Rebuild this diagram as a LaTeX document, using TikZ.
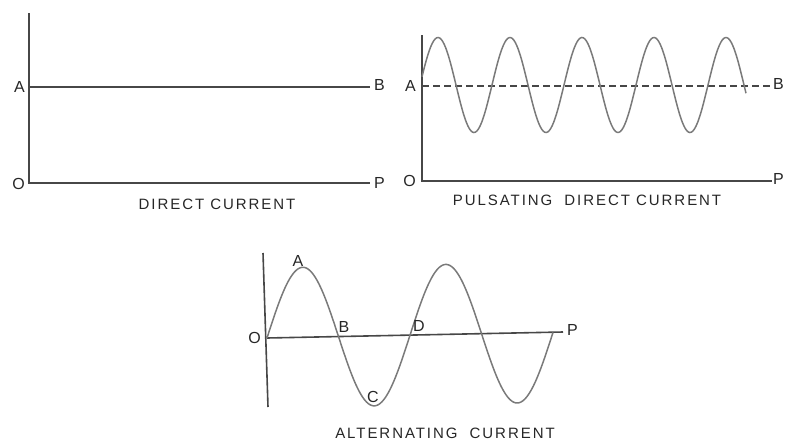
\documentclass[tikz,border=0pt]{standalone}
\usepackage{fontspec}
\setmainfont{Liberation Sans}
\usetikzlibrary{positioning}

\begin{document}
\begin{tikzpicture}[x=1pt, y=-1pt, node distance=2pt]
        \tikzset{axis/.style={line width=1.6pt, draw=black!72},
                 wave/.style={line width=1.5pt, draw=black!52},
                 lbl/.style={font=\fontsize{16}{16}\selectfont, text=black!85, inner sep=1pt},
                 caption/.style={font=\fontsize{15}{15}\selectfont\addfontfeature{LetterSpace=13}, text=black!85, inner sep=0pt}}
        \useasboundingbox (0,0) rectangle (790,442);
        % direct current
        \coordinate (dcTop) at (29,13);
        \coordinate (dcO) at (29,183);
        \coordinate (dcP) at (370,183);
        \coordinate (dcA) at (29,87);
        \coordinate (dcB) at (370,87);
        \draw[axis] (dcTop) -- (dcO) -- (dcP);
        \draw[axis] (dcA) -- (dcB);
        \node[lbl, left=3pt of dcA] (dcAl) {A};
        \node[lbl, right=3pt of dcB, yshift=2pt] (dcBl) {B};
        \node[lbl, left=3pt of dcO, yshift=-1pt] (dcOl) {O};
        \node[lbl, right=3pt of dcP] (dcPl) {P};
        \node[caption] (dcCap) at (217,204) {DIRECT CURRENT};
        % pulsating direct current
        \coordinate (pdTop) at (422,35);
        \coordinate (pdO) at (422,181);
        \coordinate (pdP) at (772,181);
        \coordinate (pdA) at (422,86);
        \coordinate (pdB) at (772,86);
        \draw[axis] (pdTop) -- (pdO) -- (pdP);
        \draw[axis, dash pattern=on 7pt off 4pt] (pdA) -- (pdB);
        \draw[wave] plot[domain=422:746, samples=220, smooth] (\x, {85-47.5*sin(5*(\x-420))});
        \node[lbl, left=5pt of pdA] (pdAl) {A};
        \node[lbl, right=0pt of pdB, yshift=2pt] (pdBl) {B};
        \node[lbl, left=5pt of pdO] (pdOl) {O};
        \node[lbl, right=0pt of pdP, yshift=2pt] (pdPl) {P};
        \node[caption] (pdCap) at (587,200) {PULSATING\hspace{6pt} DIRECT CURRENT};
        % alternating current
        \coordinate (acTop) at (263,253);
        \coordinate (acBot) at (268,407);
        \coordinate (acO) at (267,338);
        \coordinate (acP) at (563,332);
        \draw[axis] (acTop) -- (acBot);
        \draw[axis] (acO) -- (acP);
        \draw[wave] plot[domain=267:553, samples=220, smooth] (\x, {338-0.02*(\x-267)-70*sin(2.517*(\x-267))});
        \node[lbl, left=5pt of acO] (acOl) {O};
        \node[lbl, right=3pt of acP, yshift=2pt] (acPl) {P};
        \node[lbl] (acAl) at (298,261) {A};
        \node[lbl] (acBl) at (344,327) {B};
        \node[lbl] (acCl) at (373,397) {C};
        \node[lbl] (acDl) at (419,326) {D};
        \node[caption] (acCap) at (445,433) {ALTERNATING\hspace{6pt} CURRENT};
    \end{tikzpicture}
\end{document}
